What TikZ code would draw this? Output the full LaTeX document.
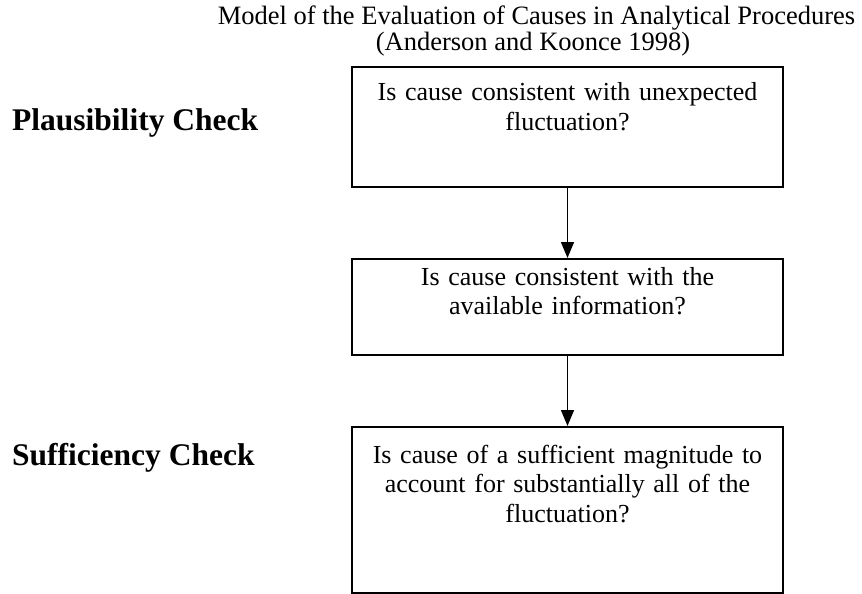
\documentclass[tikz,border=0pt]{standalone}
\usepackage{fontspec}
\setmainfont{Liberation Serif}
\usetikzlibrary{arrows.meta}
\begin{document}
\begin{tikzpicture}[x=1pt,y=1pt,
  box/.style={draw, line width=1.8pt, minimum width=431pt, inner sep=0pt},
  txt/.style={font=\fontsize{26}{29.5}\selectfont, text width=425pt, align=center, inner sep=0pt, anchor=base},
  ttl/.style={font=\fontsize{26.5}{30}\selectfont, inner sep=0pt, anchor=base},
  lbl/.style={font=\fontsize{31.5}{36}\selectfont\bfseries, inner sep=0pt, anchor=base west},
  arr/.style={line width=1.4pt, -{Triangle[length=16pt,width=13pt]}}]
\useasboundingbox (0,0) rectangle (862,-594);
\node[ttl] (title1) at (536.5,-24.5) {Model of the Evaluation of Causes in Analytical Procedures};
\node[ttl] (title2) at (533,-50.5) {(Anderson and Koonce 1998)};
\node[lbl] (plaus) at (12,-130) {Plausibility Check};
\node[lbl] (suff) at (12,-465) {Sufficiency Check};
\node[box, minimum height=120pt, anchor=north] (b1) at (567.5,-66) {};
\node[box, minimum height=96pt, anchor=north] (b2) at (567.5,-258) {};
\node[box, minimum height=166pt, anchor=north] (b3) at (567.5,-426) {};
\node[txt] (t1) at (567.5,-100.5) {Is cause consistent with unexpected\\fluctuation?};
\node[txt] (t2) at (567.5,-285) {Is cause consistent with the\\available information?};
\node[txt] (t3) at (567.5,-463) {Is cause of a sufficient magnitude to\\account for substantially all of the\\fluctuation?};
\draw[arr] (b1.south) -- (b2.north);
\draw[arr] (b2.south) -- (b3.north);
\end{tikzpicture}
\end{document}
